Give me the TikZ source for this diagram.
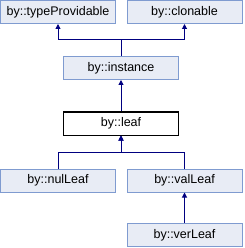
\documentclass[tikz,border=0pt]{standalone}
\usepackage{fontspec}
\setmainfont{Liberation Sans}
\usetikzlibrary{arrows.meta, positioning}
\definecolor{boxFill}{HTML}{E8ECF5}
\definecolor{boxLine}{HTML}{7F9BD0}
\definecolor{inhNavy}{HTML}{000080}
\tikzset{
  classbox/.style={draw=boxLine, fill=boxFill, line width=1pt, minimum width=115pt, minimum height=23pt, inner sep=0pt, font=\fontsize{12.5}{14}\selectfont},
  curbox/.style={classbox, draw=black, fill=white},
  inharr/.style={-{Triangle[length=5pt, width=5pt]}, inhNavy, line width=1pt},
}
\begin{document}
\begin{tikzpicture}[x=1pt, y=1pt]
        \useasboundingbox (0,0) rectangle (244,-248);
        \node[classbox] (typeprov) at (58,-12) {by::typeProvidable};
        \node[classbox] (clonable) at (184.5,-12) {by::clonable};
        \node[classbox] (instance) at (121,-68) {by::instance};
        \node[curbox] (leaf) at (121,-123.5) {by::leaf};
        \node[classbox] (nulleaf) at (58,-180.5) {by::nulLeaf};
        \node[classbox] (valleaf) at (184.5,-180.5) {by::valLeaf};
        \node[classbox] (verleaf) at (184.5,-235) {by::verLeaf};
        \draw[inharr] (instance.north) -- ++(0,16) -| (typeprov.south);
        \draw[inharr] (instance.north) -- ++(0,16) -| (clonable.south);
        \draw[inharr] (leaf.north) -- (instance.south);
        \draw[inharr] (nulleaf.north) -- ++(0,16) -| (leaf.south);
        \draw[inharr] (valleaf.north) -- ++(0,16) -| (leaf.south);
        \draw[inharr] (verleaf.north) -- (valleaf.south);
      \end{tikzpicture}
\end{document}
